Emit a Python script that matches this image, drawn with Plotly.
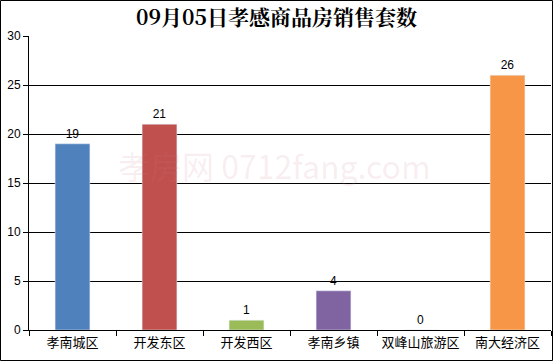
import plotly.graph_objects as go

categories = ["孝南城区", "开发东区", "开发西区", "孝南乡镇", "双峰山旅游区", "南大经济区"]
values = [19, 21, 1, 4, 0, 26]
colors = ["#4F81BD", "#C0504D", "#9BBB59", "#8064A2", "#4BACC6", "#F79646"]
y_ticks = [0, 5, 10, 15, 20, 25, 30]

W, H = 553, 361
L, R, T, B = 29, 2, 36, 31
pw, ph = W - L - R, H - T - B

fig = go.Figure(go.Bar(
    x=categories, y=values, marker_color=colors, width=0.4,
    text=[str(v) for v in values], textposition="outside",
    textfont=dict(size=12, color="black", family="Liberation Sans, Arial"),
    cliponaxis=False,
))

fig.update_layout(
    width=W, height=H, margin=dict(l=L, r=R, t=T, b=B, autoexpand=False),
    paper_bgcolor="white", plot_bgcolor="white",
    showlegend=False,
    title=dict(text="<b>09月05日孝感商品房销售套数</b>", x=0.5, xanchor="center",
               y=1 - 18 / H, yanchor="middle",
               font=dict(size=21, color="black", family="Noto Serif CJK SC, Noto Sans CJK SC")),
    xaxis=dict(showline=True, linecolor="black", linewidth=1, ticks="outside",
               tickson="boundaries", ticklen=5, tickcolor="black", tickangle=0,
               automargin=False,
               tickfont=dict(size=13, color="black", family="Noto Sans CJK SC"),
               showgrid=False, range=[-0.5, 5.5]),
    yaxis=dict(range=[0, 30], tickvals=y_ticks, showline=True, linecolor="black", linewidth=1,
               ticks="outside", ticklen=5, tickcolor="black", showgrid=True, automargin=False,
               gridcolor="black", gridwidth=1, zeroline=False,
               tickfont=dict(size=12, color="black", family="Liberation Sans, Arial")),
    bargap=0.6,
)

fig.add_shape(type="rect", xref="paper", yref="paper",
              x0=(-L + 0.5) / pw, x1=1 + (R - 0.5) / pw,
              y0=(-B + 0.5) / ph, y1=1 + (T - 0.5) / ph,
              line=dict(color="black", width=1), fillcolor="rgba(0,0,0,0)")

fig.add_annotation(text="孝房网 0712fang.com", xref="paper", yref="paper", x=0.47, y=0.56,
                   showarrow=False, font=dict(size=32, color="rgba(200,120,130,0.12)",
                                              family="Noto Sans CJK SC"))

fig.write_html("out.html", config={"displayModeBar": False},
               post_script="document.body.style.margin='0';document.body.style.overflow='hidden';")
